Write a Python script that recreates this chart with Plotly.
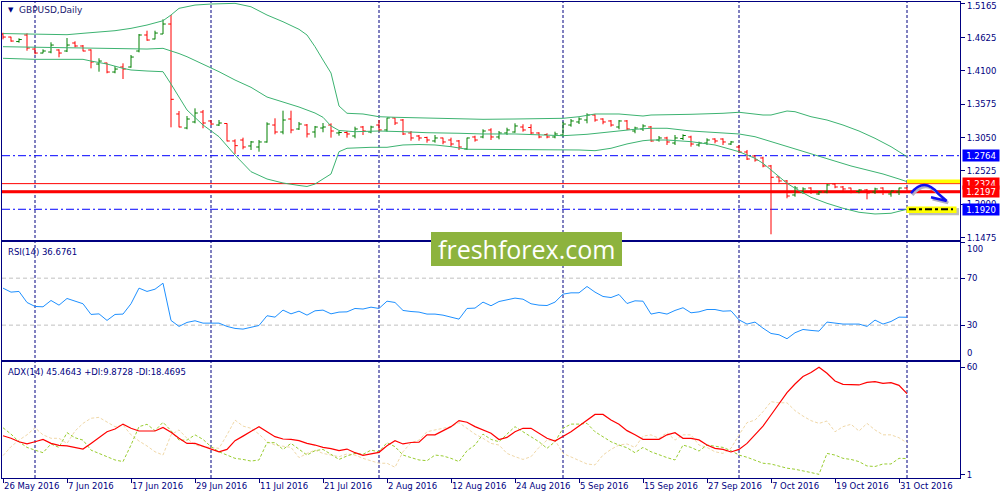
import pandas as pd
import plotly.graph_objects as go

# GBPUSD daily bars, 26 May 2016 .. 1 Nov 2016
dates = [d.strftime("%Y-%m-%d") for d in pd.bdate_range("2016-05-26", "2016-11-01")]

open_ = [1.4681, 1.4633, 1.4562, 1.4665, 1.4444, 1.4381, 1.4397, 1.4429, 1.4413, 1.4539,
         1.4492, 1.4429, 1.4208, 1.4224, 1.4082, 1.4161, 1.4161, 1.4413, 1.4665, 1.4602,
         1.4681, 1.4838, 1.3421, 1.3200, 1.3295, 1.3452, 1.3311, 1.3247, 1.3271, 1.2996,
         1.3011, 1.2917, 1.2901, 1.2980, 1.3247, 1.3137, 1.3342, 1.3185, 1.3247, 1.3137,
         1.3200, 1.3247, 1.3122, 1.3129, 1.3074, 1.3216, 1.3137, 1.3247, 1.3169, 1.3358,
         1.3326, 1.3122, 1.3074, 1.3051, 1.2996, 1.3043, 1.3011, 1.2996, 1.2870, 1.3059,
         1.3059, 1.3169, 1.3059, 1.3122, 1.3137, 1.3216, 1.3208, 1.3122, 1.3098, 1.3059,
         1.3090, 1.3247, 1.3295, 1.3326, 1.3405, 1.3342, 1.3311, 1.3216, 1.3311, 1.3153,
         1.3185, 1.3216, 1.3011, 1.3043, 1.2964, 1.3035, 1.3059, 1.2933, 1.2964, 1.3027,
         1.3027, 1.2948, 1.2901, 1.2822, 1.2759, 1.2728, 1.2602, 1.2429, 1.2366, 1.2145,
         1.2192, 1.2255, 1.2161, 1.2192, 1.2318, 1.2271, 1.2255, 1.2200, 1.2224, 1.2192,
         1.2255, 1.2161, 1.2192, 1.2255]
high = [1.4701, 1.4638, 1.4613, 1.4692, 1.4465, 1.4440, 1.4550, 1.4440, 1.4618, 1.4566,
        1.4507, 1.4440, 1.4298, 1.4229, 1.4177, 1.4219, 1.4350, 1.4681, 1.4733, 1.4733,
        1.4912, 1.4980, 1.3468, 1.3389, 1.3510, 1.3484, 1.3326, 1.3326, 1.3274, 1.3022,
        1.3048, 1.2996, 1.3011, 1.3290, 1.3353, 1.3473, 1.3473, 1.3295, 1.3263, 1.3232,
        1.3279, 1.3274, 1.3153, 1.3153, 1.3221, 1.3232, 1.3236, 1.3326, 1.3362, 1.3362,
        1.3342, 1.3153, 1.3090, 1.3063, 1.3090, 1.3048, 1.3048, 1.3011, 1.3048, 1.3079,
        1.3180, 1.3196, 1.3153, 1.3205, 1.3274, 1.3259, 1.3259, 1.3133, 1.3117, 1.3142,
        1.3299, 1.3342, 1.3369, 1.3432, 1.3416, 1.3353, 1.3326, 1.3326, 1.3326, 1.3221,
        1.3259, 1.3232, 1.3074, 1.3063, 1.3090, 1.3101, 1.3079, 1.2985, 1.3038, 1.3038,
        1.3038, 1.2996, 1.2933, 1.2854, 1.2775, 1.2748, 1.2618, 1.2433, 1.2381, 1.2287,
        1.2266, 1.2266, 1.2208, 1.2318, 1.2329, 1.2287, 1.2260, 1.2235, 1.2240, 1.2260,
        1.2266, 1.2208, 1.2260, 1.2266]
low = [1.4597, 1.4559, 1.4544, 1.4418, 1.4361, 1.4377, 1.4377, 1.4314, 1.4397, 1.4471,
       1.4408, 1.4140, 1.4087, 1.4062, 1.4062, 1.3972, 1.4150, 1.4392, 1.4575, 1.4597,
       1.4681, 1.3211, 1.3211, 1.3180, 1.3274, 1.3196, 1.3247, 1.3232, 1.2990, 1.2791,
       1.2865, 1.2854, 1.2827, 1.2969, 1.3101, 1.3101, 1.3117, 1.3169, 1.3051, 1.3048,
       1.3133, 1.3048, 1.3079, 1.3048, 1.3038, 1.3090, 1.3117, 1.3142, 1.3142, 1.3247,
       1.3090, 1.3000, 1.3000, 1.2969, 1.2969, 1.2944, 1.2906, 1.2854, 1.2854, 1.2985,
       1.3038, 1.3011, 1.3022, 1.3090, 1.3126, 1.3142, 1.3101, 1.3038, 1.3038, 1.3038,
       1.3063, 1.3221, 1.3263, 1.3274, 1.3299, 1.3259, 1.3221, 1.3180, 1.3169, 1.3117,
       1.3153, 1.2985, 1.2985, 1.2933, 1.2933, 1.3011, 1.2906, 1.2906, 1.2933, 1.2959,
       1.2933, 1.2933, 1.2811, 1.2696, 1.2670, 1.2581, 1.1526, 1.2339, 1.2093, 1.2118,
       1.2161, 1.2161, 1.2145, 1.2172, 1.2251, 1.2208, 1.2172, 1.2172, 1.2077, 1.2161,
       1.2145, 1.2118, 1.2145, 1.2190]
close = [1.4633, 1.4570, 1.4594, 1.4460, 1.4381, 1.4413, 1.4507, 1.4381, 1.4507, 1.4492,
         1.4413, 1.4240, 1.4255, 1.4082, 1.4129, 1.4129, 1.4318, 1.4665, 1.4586, 1.4696,
         1.4838, 1.3652, 1.3216, 1.3342, 1.3436, 1.3279, 1.3263, 1.3279, 1.2996, 1.2922,
         1.2901, 1.2980, 1.2980, 1.3263, 1.3137, 1.3326, 1.3169, 1.3263, 1.3106, 1.3216,
         1.3216, 1.3153, 1.3129, 1.3106, 1.3185, 1.3153, 1.3216, 1.3169, 1.3358, 1.3279,
         1.3106, 1.3043, 1.3043, 1.3011, 1.3043, 1.2980, 1.2948, 1.2901, 1.3043, 1.3011,
         1.3153, 1.3059, 1.3122, 1.3169, 1.3232, 1.3169, 1.3122, 1.3059, 1.3059, 1.3106,
         1.3263, 1.3311, 1.3342, 1.3405, 1.3326, 1.3295, 1.3247, 1.3311, 1.3185, 1.3200,
         1.3232, 1.2996, 1.3043, 1.2980, 1.3043, 1.3082, 1.2948, 1.2964, 1.3011, 1.2996,
         1.2980, 1.2980, 1.2822, 1.2712, 1.2696, 1.2602, 1.2424, 1.2366, 1.2129, 1.2255,
         1.2240, 1.2192, 1.2192, 1.2303, 1.2271, 1.2240, 1.2192, 1.2224, 1.2177, 1.2240,
         1.2192, 1.2208, 1.2255, 1.2197]

# Bollinger bands (20) read at sample bars
bb_up_bars = [0, 4, 8, 10, 12, 14, 16, 18, 20, 21, 22, 24, 26, 28, 29, 31, 33, 35, 37, 38,
              39, 40, 41, 42, 43, 45, 47, 49, 51, 55, 60, 64, 68, 70, 72, 74, 77, 80, 81, 83,
              86, 90, 92, 95, 96, 98, 99, 101, 103, 105, 107, 109, 111, 113]
bb_upper = [1.4688, 1.4676, 1.4670, 1.4692, 1.4707, 1.4733, 1.4770, 1.4822, 1.4890, 1.4980,
            1.5085, 1.5137, 1.5153, 1.5164, 1.5164, 1.5110, 1.4980, 1.4874, 1.4755, 1.4665,
            1.4481, 1.4271, 1.4066, 1.3547, 1.3432, 1.3421, 1.3378, 1.3369, 1.3362, 1.3353,
            1.3337, 1.3342, 1.3353, 1.3353, 1.3378, 1.3421, 1.3421, 1.3389, 1.3405, 1.3405,
            1.3416, 1.3432, 1.3448, 1.3405, 1.3405, 1.3468, 1.3457, 1.3378, 1.3326, 1.3247,
            1.3153, 1.3038, 1.2906, 1.2748]
bb_mid_bars = [0, 4, 8, 12, 16, 18, 20, 21, 22, 23, 25, 27, 29, 31, 33, 35, 37, 39, 40, 41,
               42, 44, 47, 50, 53, 57, 60, 64, 68, 70, 73, 76, 79, 81, 83, 86, 89, 92, 94, 96,
               98, 100, 102, 104, 106, 108, 110, 112, 113]
bb_mid = [1.4481, 1.4471, 1.4465, 1.4455, 1.4440, 1.4444, 1.4455, 1.4418, 1.4373, 1.4323,
          1.4208, 1.4087, 1.3956, 1.3841, 1.3688, 1.3610, 1.3531, 1.3436, 1.3369, 1.3232,
          1.3161, 1.3142, 1.3153, 1.3142, 1.3126, 1.3117, 1.3106, 1.3106, 1.3090, 1.3079,
          1.3101, 1.3142, 1.3180, 1.3196, 1.3196, 1.3153, 1.3126, 1.3106, 1.3063, 1.2985,
          1.2906, 1.2827, 1.2748, 1.2670, 1.2602, 1.2539, 1.2476, 1.2397, 1.2355]
bb_low_bars = [0, 4, 8, 10, 11, 13, 15, 16, 18, 20, 21, 22, 23, 25, 27, 29, 31, 33, 35, 37,
               38, 39, 40, 41, 42, 43, 46, 48, 50, 52, 54, 56, 58, 60, 66, 70, 72, 74, 76, 78,
               80, 81, 83, 86, 89, 92, 94, 95, 96, 97, 98, 99, 101, 103, 105, 107, 109, 111, 113]
bb_lower = [1.4298, 1.4282, 1.4282, 1.4282, 1.4255, 1.4208, 1.4140, 1.4114, 1.4098, 1.4087,
            1.3893, 1.3693, 1.3484, 1.3248, 1.3063, 1.2775, 1.2512, 1.2397, 1.2334, 1.2295,
            1.2279, 1.2318, 1.2397, 1.2476, 1.2827, 1.2881, 1.2896, 1.2896, 1.2933, 1.2940,
            1.2933, 1.2906, 1.2865, 1.2865, 1.2865, 1.2865, 1.2854, 1.2843, 1.2881, 1.2949,
            1.3000, 1.3011, 1.3011, 1.2985, 1.2933, 1.2827, 1.2723, 1.2644, 1.2539, 1.2444,
            1.2329, 1.2251, 1.2109, 1.2014, 1.1936, 1.1873, 1.1846, 1.1857, 1.1920]

rsi = [61.5, 58.1, 58.7, 49.3, 45.9, 45.6, 51.0, 47.0, 52.7, 50.7,
       48.2, 39.1, 39.6, 34.0, 39.1, 39.4, 48.2, 61.5, 58.7, 60.6,
       65.7, 34.0, 28.9, 32.3, 33.7, 31.7, 31.7, 31.7, 28.9, 27.2,
       26.6, 28.0, 29.7, 38.0, 36.8, 42.8, 39.6, 41.9, 38.5, 42.2,
       42.8, 39.6, 41.1, 41.3, 44.2, 43.7, 45.3, 44.2, 50.4, 49.3,
       42.5, 41.6, 41.1, 39.4, 39.4, 38.5, 37.1, 35.1, 44.2, 44.5,
       49.6, 46.5, 50.1, 51.6, 53.0, 52.1, 48.2, 47.0, 46.7, 49.6,
       56.4, 57.5, 57.5, 62.9, 58.1, 54.4, 53.5, 56.1, 48.4, 50.7,
       50.4, 39.4, 40.8, 39.4, 42.5, 44.8, 40.5, 41.3, 43.3, 43.3,
       41.9, 42.2, 34.5, 30.9, 32.6, 27.4, 22.9, 21.8, 18.4, 23.5,
       26.3, 25.5, 24.9, 32.6, 31.7, 30.9, 30.9, 30.9, 28.9, 34.3,
       30.9, 33.1, 36.8, 36.7]

adx = [22.4, 21.0, 19.1, 17.9, 19.1, 20.4, 18.2, 17.1, 16.8, 16.0,
       15.1, 18.2, 21.5, 24.6, 26.1, 28.8, 26.5, 25.0, 25.0, 25.0,
       27.0, 24.3, 21.0, 18.2, 18.2, 16.8, 15.3, 13.6, 14.9, 19.7,
       22.2, 25.0, 27.4, 24.6, 21.9, 20.6, 20.4, 19.7, 18.2, 17.3,
       16.0, 15.3, 14.2, 15.1, 13.1, 11.6, 12.5, 13.3, 16.9, 19.7,
       17.9, 18.7, 18.9, 22.9, 22.9, 25.0, 27.4, 30.7, 29.8, 27.4,
       25.6, 23.8, 20.3, 21.5, 24.6, 26.5, 26.5, 23.7, 21.0, 19.5,
       21.9, 24.6, 27.7, 31.0, 34.1, 34.1, 31.0, 28.7, 25.2, 22.9,
       20.4, 20.4, 20.4, 22.9, 24.1, 21.0, 21.0, 20.1, 17.3, 15.5,
       14.9, 13.5, 14.9, 18.2, 22.9, 27.7, 33.8, 40.2, 46.1, 50.8,
       54.9, 57.1, 60.0, 56.7, 52.5, 50.6, 50.6, 50.3, 51.7, 52.1,
       51.2, 51.6, 50.1, 45.5]
plus_di = [26.8, 23.3, 19.1, 16.0, 14.5, 13.1, 17.9, 16.0, 24.1, 21.3,
           20.0, 14.5, 12.7, 10.9, 9.1, 8.2, 17.3, 27.4, 28.7, 25.2,
           29.8, 25.2, 20.0, 20.0, 22.9, 20.4, 16.4, 13.6, 11.8, 10.0,
           9.4, 8.5, 9.1, 18.6, 18.6, 14.9, 18.2, 14.9, 11.8, 14.2,
           14.9, 12.2, 9.4, 11.3, 12.7, 12.2, 14.5, 13.6, 18.6, 16.4,
           11.8, 10.4, 9.1, 8.7, 11.8, 11.3, 10.0, 8.2, 14.2, 17.3,
           23.3, 20.4, 19.1, 23.3, 27.4, 24.6, 21.9, 19.1, 15.5, 19.1,
           26.5, 28.8, 28.8, 29.2, 24.6, 21.9, 19.1, 17.3, 15.8, 13.1,
           16.0, 13.6, 11.8, 10.4, 9.1, 17.3, 16.0, 14.0, 17.3, 16.8,
           16.0, 14.2, 11.8, 10.6, 9.1, 7.3, 6.9, 5.8, 4.6, 4.0,
           3.3, 2.2, 1.2, 12.7, 11.8, 10.0, 9.4, 8.2, 5.8, 5.5,
           6.9, 6.9, 10.0, 9.9]
minus_di = [11.5, 16.4, 20.0, 22.9, 26.8, 22.9, 21.0, 21.0, 18.2, 25.0,
            29.2, 32.0, 32.5, 30.1, 27.4, 28.3, 22.9, 19.5, 16.8, 13.6,
            11.8, 22.9, 25.6, 21.0, 17.3, 16.4, 16.0, 15.5, 22.9, 31.0,
            27.7, 26.5, 23.3, 19.1, 17.3, 16.8, 16.0, 10.4, 12.7, 14.5,
            12.7, 11.8, 10.9, 12.4, 11.8, 10.0, 8.5, 7.3, 7.3, 5.1,
            13.6, 18.6, 20.0, 24.6, 25.6, 26.5, 27.4, 29.6, 26.5, 23.3,
            21.0, 18.2, 17.3, 12.7, 10.9, 9.4, 10.9, 16.0, 20.0, 20.0,
            12.7, 10.9, 8.7, 6.9, 6.4, 11.8, 14.9, 17.3, 17.9, 16.0,
            22.2, 22.9, 21.0, 24.1, 20.0, 22.9, 22.9, 17.3, 16.0, 13.6,
            12.7, 15.5, 22.9, 29.6, 31.0, 35.6, 41.1, 40.5, 40.5, 36.2,
            33.2, 30.7, 29.2, 30.5, 24.6, 27.4, 28.7, 25.0, 29.2, 25.6,
            22.9, 22.9, 21.3, 18.5]

tick_dates = ["2016-05-26", "2016-06-07", "2016-06-17", "2016-06-29", "2016-07-11",
              "2016-07-21", "2016-08-02", "2016-08-12", "2016-08-24", "2016-09-05",
              "2016-09-15", "2016-09-27", "2016-10-07", "2016-10-19", "2016-10-31"]
tick_labels = ["26 May 2016", "7 Jun 2016", "17 Jun 2016", "29 Jun 2016", "11 Jul 2016",
               "21 Jul 2016", "2 Aug 2016", "12 Aug 2016", "24 Aug 2016", "5 Sep 2016",
               "15 Sep 2016", "27 Sep 2016", "7 Oct 2016", "19 Oct 2016", "31 Oct 2016"]
month_starts = ["2016-06-01", "2016-07-01", "2016-08-01", "2016-09-01", "2016-10-03", "2016-11-01"]
price_ticks = [1.1475, 1.2000, 1.2525, 1.3050, 1.3575, 1.4100, 1.4625, 1.5165]
price_top = 1.5165   # chart maximum, labelled just under the top edge

# levels drawn on the chart
resist_level = 1.2764
support_level = 1.1920
red_level = 1.2324
bid_level = 1.2197
ask_level = 1.2213

NAVY = "#000080"
FONT = "DejaVu Sans"


def px_x(px):
    # screen pixel -> paper x (plot spans 2..960)
    return (px - 2) / 958.0


def px_y(py):
    # screen pixel -> paper y (plot spans 2..478)
    return (478 - py) / 476.0


fig = go.Figure()

fig.add_trace(go.Ohlc(
    x=dates, open=open_, high=high, low=low, close=close,
    increasing=dict(line=dict(color="#008000", width=1)),
    decreasing=dict(line=dict(color="#FF0000", width=1)),
    tickwidth=0.35, xaxis="x", yaxis="y", hoverinfo="skip"))

for bars, vals in [(bb_up_bars, bb_upper), (bb_mid_bars, bb_mid), (bb_low_bars, bb_lower)]:
    fig.add_trace(go.Scatter(x=[dates[i] for i in bars], y=vals, mode="lines",
                             line=dict(color="#3CB371", width=1), xaxis="x", yaxis="y",
                             hoverinfo="skip"))

fig.add_trace(go.Scatter(x=dates, y=rsi, mode="lines", line=dict(color="#1E90FF", width=1),
                         xaxis="x2", yaxis="y2", hoverinfo="skip"))

fig.add_trace(go.Scatter(x=dates, y=minus_di, mode="lines",
                         line=dict(color="#F0D8A8", width=1, dash="3px,2px"),
                         xaxis="x3", yaxis="y3", hoverinfo="skip"))
fig.add_trace(go.Scatter(x=dates, y=plus_di, mode="lines",
                         line=dict(color="#9ACD32", width=1, dash="3px,2px"),
                         xaxis="x3", yaxis="y3", hoverinfo="skip"))
fig.add_trace(go.Scatter(x=dates, y=adx, mode="lines", line=dict(color="#FF0000", width=1.2),
                         xaxis="x3", yaxis="y3", hoverinfo="skip"))

common_x = dict(type="category", categoryorder="array", categoryarray=dates,
                range=[-0.125, 119.625], showgrid=False, zeroline=False, showline=True,
                mirror=True, linecolor=NAVY, linewidth=1, fixedrange=True, automargin=False)
common_y = dict(side="right", showgrid=False, zeroline=False, showline=True, mirror=True,
                linecolor=NAVY, linewidth=1, ticks="outside", ticklen=4, tickcolor=NAVY,
                tickfont=dict(family=FONT, size=8.5, color=NAVY), fixedrange=True,
                automargin=False)

shapes = []
for d in month_starts:
    i = dates.index(d)
    shapes.append(dict(type="line", xref="x", yref="paper", x0=i, x1=i, y0=0, y1=1,
                       line=dict(color=NAVY, width=1, dash="3px,2px"), layer="below"))

for lvl, col, w, dash in [(resist_level, "#0000FF", 1, "8px,3px,2px,3px"),
                          (support_level, "#0000FF", 1, "8px,3px,2px,3px"),
                          (red_level, "#FF0000", 1, "solid"),
                          (ask_level, "#C8C8C8", 1, "solid"),
                          (bid_level, "#FF0000", 3, "solid")]:
    shapes.append(dict(type="line", xref="paper", yref="y", x0=0, x1=1, y0=lvl, y1=lvl,
                       line=dict(color=col, width=w, dash=dash), layer="below"))

for lvl in (70, 30):
    shapes.append(dict(type="line", xref="paper", yref="y2", x0=0, x1=1, y0=lvl, y1=lvl,
                       line=dict(color="#C0C0C0", width=1, dash="4px,3px"), layer="below"))

# yellow marks on the right
shapes.append(dict(type="rect", xref="paper", yref="y", x0=px_x(907), x1=1.0,
                   y0=1.2330, y1=1.2390, fillcolor="#FFFF00", line=dict(width=0), layer="above"))
shapes.append(dict(type="rect", xref="paper", yref="y", x0=px_x(909), x1=px_x(959),
                   y0=1.1825, y1=1.1935, fillcolor="#BDBDBD", line=dict(width=0), layer="above"))
shapes.append(dict(type="rect", xref="paper", yref="y", x0=px_x(906.5), x1=px_x(956.5),
                   y0=1.1860, y1=1.1965, fillcolor="#FFFF00", line=dict(width=0), layer="above"))
shapes.append(dict(type="line", xref="paper", yref="y", x0=px_x(909), x1=px_x(953),
                   y0=support_level, y1=support_level,
                   line=dict(color="#000000", width=2, dash="7px,3px,3px,3px"), layer="above"))

# blue curved arrow (with a soft shadow)
arrow = "M {a},{b} Q {c},{d} {e},{f} L {g},{h} M {i},{j} L {g},{h}"
for dx, dy, col in [(1.5 / 958, -0.0030, "#B0B0C8"), (0, 0, "#1010F0")]:
    shapes.append(dict(type="path", xref="paper", yref="y", layer="above",
                       path=arrow.format(a=px_x(911) + dx, b=1.2171 + dy,
                                         c=px_x(924) + dx, d=1.2430 + dy,
                                         e=px_x(938) + dx, f=1.2171 + dy,
                                         g=px_x(946.7) + dx, h=1.2050 + dy,
                                         i=px_x(931) + dx, j=1.2109 + dy),
                       line=dict(color=col, width=2.5)))

# watermark box
shapes.append(dict(type="rect", xref="paper", yref="paper", x0=px_x(431), x1=px_x(622),
                   y0=px_y(266), y1=px_y(232), fillcolor="#8DB33E", line=dict(width=0),
                   layer="above"))

annotations = [
    dict(text="▼", x=px_x(6), y=px_y(9.5), xref="paper", yref="paper", xanchor="left",
         yanchor="middle", showarrow=False, font=dict(family=FONT, size=7, color=NAVY)),
    dict(text="GBPUSD,Daily", x=px_x(17), y=px_y(10), xref="paper", yref="paper",
         xanchor="left", yanchor="middle", showarrow=False,
         font=dict(family=FONT, size=9, color="#1A1A70")),
    dict(text="RSI(14) 36.6761", x=px_x(6), y=px_y(252), xref="paper", yref="paper",
         xanchor="left", yanchor="middle", showarrow=False,
         font=dict(family=FONT, size=8.5, color=NAVY)),
    dict(text="ADX(14) 45.4643 +DI:9.8728 -DI:18.4695", x=px_x(6), y=px_y(372),
         xref="paper", yref="paper", xanchor="left", yanchor="middle", showarrow=False,
         font=dict(family=FONT, size=8.5, color=NAVY)),
    dict(text="%.4f" % price_top, x=1, xshift=5, y=px_y(6.5), xref="paper", yref="paper",
         xanchor="left", yanchor="middle", showarrow=False,
         font=dict(family=FONT, size=8.5, color=NAVY)),
    dict(text="100", x=1, xshift=5, y=94.6, xref="paper", yref="y2", xanchor="left",
         yanchor="middle", showarrow=False, font=dict(family=FONT, size=8.5, color=NAVY)),
    dict(text="0", x=1, xshift=5, y=6.1, xref="paper", yref="y2", xanchor="left",
         yanchor="middle", showarrow=False, font=dict(family=FONT, size=8.5, color=NAVY)),
    dict(text="freshforex.com", x=px_x(526.5), y=px_y(249), xref="paper", yref="paper",
         xanchor="center", yanchor="middle", showarrow=False,
         font=dict(family="Open Sans", size=25, color="#FFFFFF")),
]

for lvl, col in [(resist_level, "#0000FF"), (support_level, "#0000FF"),
                 (red_level, "#FF0000"), (bid_level, "#FF0000")]:
    annotations.append(dict(text="%.4f" % lvl, x=1, xshift=2, y=lvl, xref="paper", yref="y",
                            xanchor="left", yanchor="middle", showarrow=False,
                            bgcolor=col, borderpad=1, width=34, height=9, align="center",
                            font=dict(family=FONT, size=8.5, color="#FFFFFF")))

fig.update_layout(
    width=1000, height=500, template="none",
    margin=dict(l=2, r=40, t=2, b=22),
    paper_bgcolor="#FFFFFF", plot_bgcolor="#FFFFFF",
    showlegend=False, hovermode=False,
    font=dict(family=FONT, size=8.5, color=NAVY),
    xaxis=dict(common_x, anchor="y", domain=[0, 1], showticklabels=False, ticks="",
               rangeslider=dict(visible=False)),
    xaxis2=dict(common_x, anchor="y2", domain=[0, 1], matches="x", showticklabels=False,
                ticks=""),
    xaxis3=dict(common_x, anchor="y3", domain=[0, 1], matches="x", tickvals=tick_dates,
                ticktext=tick_labels, ticks="outside", ticklen=4, tickcolor=NAVY,
                ticklabelposition="outside right",
                tickfont=dict(family=FONT, size=8.5, color=NAVY)),
    yaxis=dict(common_y, anchor="x", domain=[0.5, 1.0], range=[1.1436, 1.5185],
               tickvals=price_ticks,
               ticktext=["" if v == price_top else "%.4f" % v for v in price_ticks]),
    yaxis2=dict(common_y, anchor="x2", domain=[0.2479, 0.4958], range=[0.3, 100.8],
                tickvals=[30, 70, 100], ticktext=["30", "70", ""]),
    yaxis3=dict(common_y, anchor="x3", domain=[0.0, 0.2437], range=[-0.8, 62.9],
                tickvals=[1, 60], ticktext=["1", "60"]),
    shapes=shapes,
    annotations=annotations,
)

# drop the browser's default 8px page margin so the chart sits at the window edge
fig.write_html("out.html", config={"displayModeBar": False},
               post_script="document.body.style.margin='0px';")
